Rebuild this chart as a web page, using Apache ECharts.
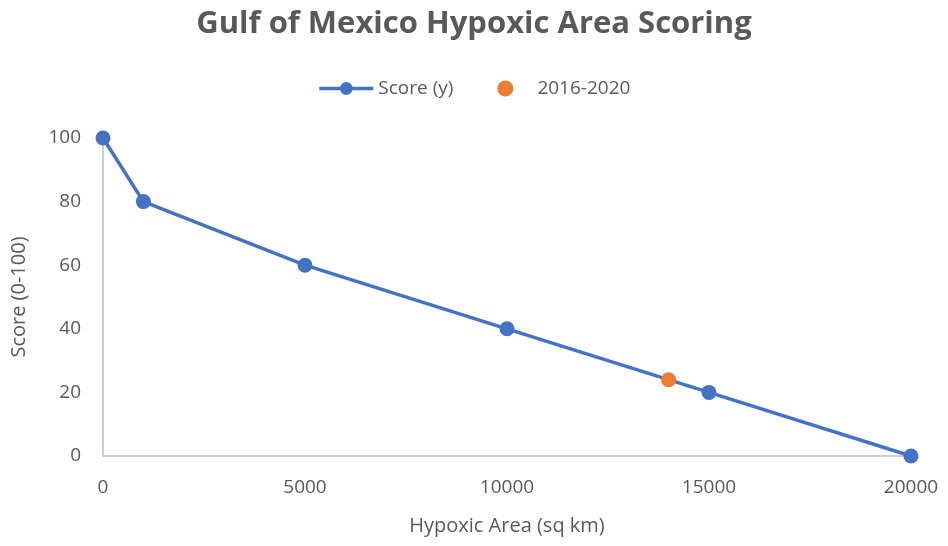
<!DOCTYPE html>
<html>
<head>
<meta charset="utf-8">
<script src="https://cdn.jsdelivr.net/npm/echarts@6/dist/echarts.min.js"></script>
<style>
html, body { margin: 0; padding: 0; background: #fff; }
#chart { width: 948px; height: 546px; }
</style>
</head>
<body>
<div id="chart"></div>
<script>
// score curve: hypoxic area (sq km) -> score
const areaX = [0, 1000, 5000, 10000, 15000, 20000]
const scoreY = [100, 80, 60, 40, 20, 0]
// 2016-2020 average
const recentX = [14000]
const recentY = [24]

const font = '"Open Sans", "Liberation Sans", sans-serif'
const grey = '#595959'

const chart = echarts.init(document.getElementById('chart'))
chart.setOption({
  animation: false,
  title: {
    text: 'Gulf of Mexico Hypoxic Area Scoring',
    left: 'center', top: 4,
    textStyle: { fontFamily: font, fontSize: 31, fontWeight: 'bold', color: grey }
  },
  legend: {
    top: 74, left: 'center', itemGap: 44, itemWidth: 54, itemHeight: 16,
    textStyle: { fontFamily: font, fontSize: 19, color: grey },
    data: [
      { name: 'Score (y)', lineStyle: { width: 3.5 } },
      { name: '2016-2020', icon: 'circle' }
    ]
  },
  grid: { left: 103, right: 37, top: 138, bottom: 90 },
  xAxis: {
    type: 'value', min: 0, max: 20000, interval: 5000,
    name: 'Hypoxic Area (sq km)', nameLocation: 'middle', nameGap: 60,
    nameTextStyle: { fontFamily: font, fontSize: 20, color: grey },
    axisLine: { show: true, lineStyle: { color: '#bfbfbf', width: 1.5 } },
    axisTick: { show: false },
    splitLine: { show: false },
    axisLabel: { fontFamily: font, fontSize: 19, color: grey, margin: 22, formatter: v => String(v) }
  },
  yAxis: {
    type: 'value', min: 0, max: 100, interval: 20,
    name: 'Score (0-100)', nameLocation: 'middle', nameGap: 74,
    nameTextStyle: { fontFamily: font, fontSize: 20, color: grey },
    axisLine: { show: true, lineStyle: { color: '#bfbfbf', width: 1.5 } },
    axisTick: { show: false },
    splitLine: { show: false },
    axisLabel: { fontFamily: font, fontSize: 19, color: grey, margin: 22 }
  },
  series: [
    {
      name: 'Score (y)', type: 'line',
      data: areaX.map((x, i) => [x, scoreY[i]]),
      symbol: 'circle', symbolSize: 15,
      lineStyle: { color: '#4472c4', width: 3.5 },
      itemStyle: { color: '#4472c4', borderWidth: 0 }
    },
    {
      name: '2016-2020', type: 'scatter',
      data: recentX.map((x, i) => [x, recentY[i]]),
      symbol: 'circle', symbolSize: 15,
      itemStyle: { color: '#ed7d31', opacity: 1 }, z: 3
    }
  ]
})
</script>
</body>
</html>
